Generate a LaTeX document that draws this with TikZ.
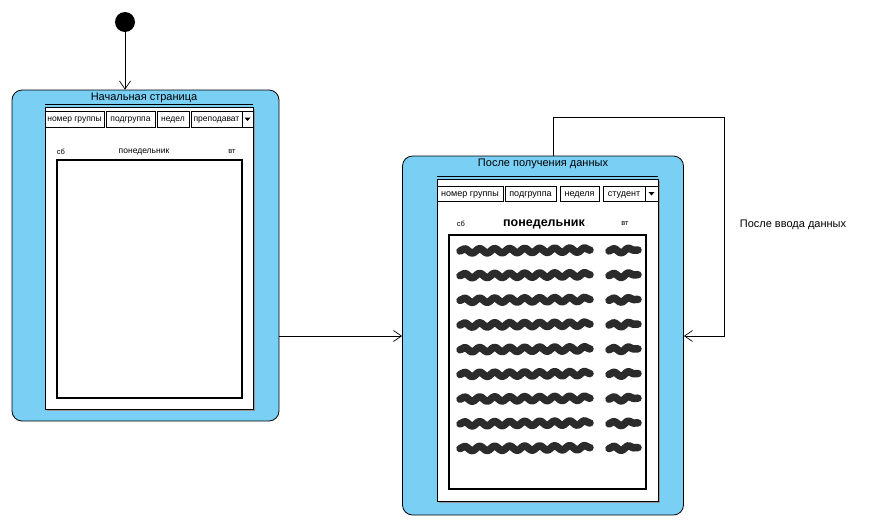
\documentclass[tikz,border=0pt]{standalone}
\usepackage{fontspec}
\setmainfont{Liberation Sans}
\usetikzlibrary{arrows.meta,decorations.pathmorphing}
\definecolor{stfill}{RGB}{122,207,245}
\definecolor{scribgray}{RGB}{43,43,43}
\definecolor{shadowgray}{RGB}{150,150,150}
\begin{document}
\begin{tikzpicture}[x=1pt,y=-1pt,
  state/.style={draw=black,fill=stfill,rounded corners=10pt,line width=0.8pt,inner sep=0pt},
  sttitle/.style={inner sep=0pt,font=\fontsize{11}{13}\selectfont},
  mock/.style={draw=black,fill=white,line width=0.9pt,inner sep=0pt},
  btn/.style={draw=black,fill=white,line width=0.8pt,inner sep=0pt,text height=0.72em,text depth=0.2em},
  lbtn/.style={btn,font=\fontsize{8.5}{9}\selectfont},
  rbtn/.style={btn,font=\fontsize{9}{10}\selectfont},
  frame/.style={draw=black,fill=white,line width=1.2pt,inner sep=0pt},
  small/.style={inner sep=0pt,font=\fontsize{7.5}{8}\selectfont},
  scrib/.style={draw=scribgray,line width=7.5pt,line cap=round,line join=round,
    decorate,decoration={snake,amplitude=2.2pt,segment length=15pt}},
  arr/.style={draw=black,line width=0.7pt,-{Straight Barb[length=8pt,width=11pt,line width=0.7pt]}},
  initst/.style={circle,fill=black,minimum size=20pt,inner sep=0pt}
]
\useasboundingbox (0,0) rectangle (872,528);

% initial state
\node[initst] (init) at (125,22) {};

% ---------- left state ----------
\node[state,minimum width=267pt,minimum height=331pt] (s1) at (145.5,255.5) {};
\node[sttitle] (t1) at (144,97.5) {Начальная страница};
\draw[shadowgray,line width=0.8pt] (47,410) -- (254,410) -- (254,109);
\node[mock,minimum width=208pt,minimum height=302pt] (m1) at (149,258) {};
\draw[black,line width=0.8pt] (m1.north west) ++(0,-2.5) coordinate (m1t) -- (m1t -| m1.east);
\node[lbtn,minimum width=59pt,minimum height=16pt] (lb1) at (74.5,119) {номер группы};
\node[lbtn,minimum width=49pt,minimum height=16pt] (lb2) at (130.5,119) {подгруппа};
\node[lbtn,minimum width=32pt,minimum height=16pt] (lb3) at (173,119) {недел};
\node[lbtn,minimum width=51pt,minimum height=16pt] (lb4) at (216.5,119) {преподават};
\node[lbtn,minimum width=11pt,minimum height=16pt] (ldd) at (247.5,119) {};
\fill ([xshift=-3pt,yshift=1.5pt]ldd.center) -- ([xshift=3pt,yshift=1.5pt]ldd.center) -- ([yshift=-2pt]ldd.center) -- cycle;
\node[small] (lsb) at (61,152) {сб};
\node[small,font=\fontsize{8.5}{9}\selectfont] (lpn) at (144,152) {понедельник};
\node[small] (lvt) at (232,152) {вт};
\node[frame,minimum width=185pt,minimum height=238pt] (f1) at (149.5,279) {};

% ---------- right state ----------
\node[state,minimum width=281pt,minimum height=359pt] (s2) at (543,335.5) {};
\node[sttitle] (t2) at (543,163.5) {После получения данных};
\draw[shadowgray,line width=0.8pt] (439,502) -- (659,502) -- (659,181);
\node[mock,minimum width=221pt,minimum height=322pt] (m2) at (547.5,340) {};
\draw[black,line width=0.8pt] (m2.north west) ++(0,-2.5) coordinate (m2t) -- (m2t -| m2.east);
\node[rbtn,minimum width=66pt,minimum height=15pt] (rb1) at (470,193.5) {номер группы};
\node[rbtn,minimum width=51pt,minimum height=15pt] (rb2) at (530.5,193.5) {подгруппа};
\node[rbtn,minimum width=39pt,minimum height=15pt] (rb3) at (579.5,193.5) {неделя};
\node[rbtn,minimum width=42pt,minimum height=15pt] (rb4) at (624,193.5) {студент};
\node[rbtn,minimum width=13pt,minimum height=15pt] (rdd) at (651.5,193.5) {};
\fill ([xshift=-3pt,yshift=1.5pt]rdd.center) -- ([xshift=3pt,yshift=1.5pt]rdd.center) -- ([yshift=-2pt]rdd.center) -- cycle;
\node[small] (rsb) at (461,224) {сб};
\node[inner sep=0pt,font=\fontsize{12.5}{14}\selectfont\bfseries] (rpn) at (544,224.5) {понедельник};
\node[small] (rvt) at (625,224) {вт};
\node[frame,minimum width=197pt,minimum height=254pt] (f2) at (547.5,362) {};
\foreach \i in {0,...,8}{
  \pgfmathsetmacro{\yy}{250+\i*24.7}
  \draw[scrib] (460,\yy+1) -- (590,\yy);
  \draw[scrib] (609,\yy+1) -- (638,\yy);
}

% ---------- connectors ----------
\draw[arr] (init) -- (init |- s1.north);
\coordinate (h1) at (0,336);
\draw[arr] (s1.east |- h1) -- (s2.west |- h1);
\coordinate (l1) at (553,117);
\coordinate (l2) at (724,117);
\draw[arr] (s2.north -| l1) -- (l1) -- (l2) |- (s2.east |- h1);
\node[inner sep=0pt,font=\fontsize{11}{13}\selectfont] (lbl) at (793,225) {После ввода данных};
\end{tikzpicture}
\end{document}
